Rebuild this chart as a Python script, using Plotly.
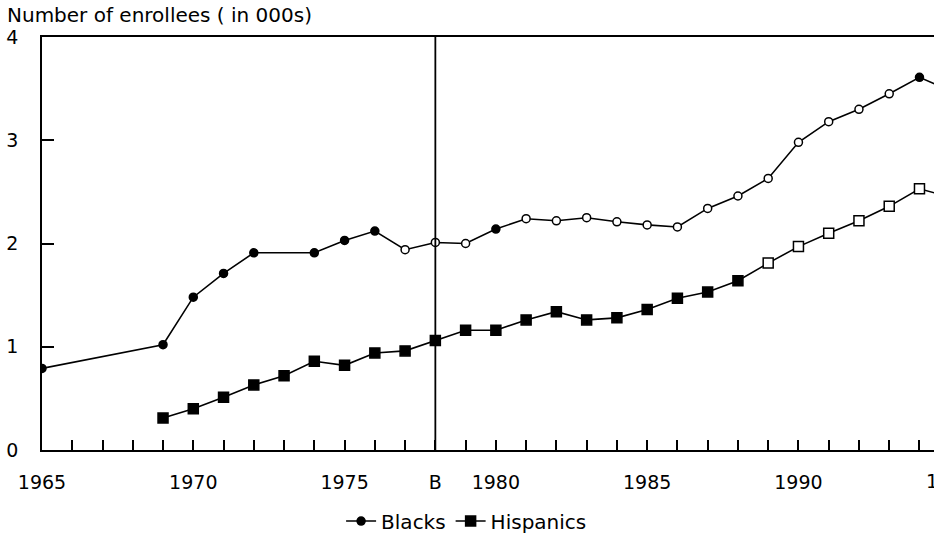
import plotly.graph_objects as go

# ---- data ----
black_years = [1965, 1969, 1970, 1971, 1972, 1974, 1975, 1976, 1977, 1978, 1979,
               1980, 1981, 1982, 1983, 1984, 1985, 1986, 1987, 1988, 1989, 1990,
               1991, 1992, 1993, 1994, 1995]
black_vals = [0.79, 1.02, 1.48, 1.71, 1.91, 1.91, 2.03, 2.12, 1.94, 2.01, 2.00,
              2.14, 2.24, 2.22, 2.25, 2.21, 2.18, 2.16, 2.34, 2.46, 2.63, 2.98,
              3.18, 3.30, 3.45, 3.61, 3.48]

hisp_years = [1969, 1970, 1971, 1972, 1973, 1974, 1975, 1976, 1977, 1978, 1979,
              1980, 1981, 1982, 1983, 1984, 1985, 1986, 1987, 1988, 1989, 1990,
              1991, 1992, 1993, 1994, 1995]
hisp_vals = [0.31, 0.40, 0.51, 0.63, 0.72, 0.86, 0.82, 0.94, 0.96, 1.06, 1.16,
             1.16, 1.26, 1.34, 1.26, 1.28, 1.36, 1.47, 1.53, 1.64, 1.81, 1.97,
             2.10, 2.22, 2.36, 2.53, 2.45]

tick_years = list(range(1965, 1995))
tick_labels = {1965: "1965", 1970: "1970", 1975: "1975", 1978: "B",
               1980: "1980", 1985: "1985", 1990: "1990"}
break_year = 1978

title_text = "Number of enrollees ( in 000s)"
font_family = "DejaVu Sans"

# marker fill styling (photocopy look: early points solid, later hollow)
black_solid = {1965, 1969, 1970, 1971, 1972, 1974, 1975, 1976, 1980, 1994}
hisp_solid_until = 1988

black_fill = ["black" if y in black_solid else "white" for y in black_years]
hisp_fill = ["black" if y <= hisp_solid_until else "white" for y in hisp_years]

fig = go.Figure()
fig.add_trace(go.Scatter(
    x=black_years, y=black_vals, name="Blacks", mode="lines+markers",
    line=dict(color="black", width=1.6),
    marker=dict(symbol="circle", size=8, color=black_fill,
                line=dict(color="black", width=1.5)),
))
fig.add_trace(go.Scatter(
    x=hisp_years, y=hisp_vals, name="Hispanics", mode="lines+markers",
    line=dict(color="black", width=1.6),
    marker=dict(symbol="square", size=10, color=hisp_fill,
                line=dict(color="black", width=1.5)),
))

fig.add_shape(type="line", xref="x", yref="y", x0=break_year, x1=break_year,
              y0=0, y1=4, line=dict(color="black", width=1.8), layer="above")

# partially visible last label, cut by the picture edge
x0, x1 = 1965, 1994.48
fig.add_annotation(text="1995", xref="paper", yref="paper",
                   x=(1995 - x0) / (x1 - x0), y=0, yshift=-31,
                   xanchor="center", yanchor="middle", showarrow=False,
                   font=dict(family=font_family, size=19, color="black"))

fig.update_layout(
    width=934, height=536,
    margin=dict(l=42, r=0, t=37, b=86, pad=0, autoexpand=False),
    paper_bgcolor="white", plot_bgcolor="white",
    font=dict(family=font_family, size=19, color="black"),
    title=dict(text=title_text, x=7 / 934, xanchor="left", xref="container",
               y=1 - 15 / 536, yanchor="middle", yref="container",
               pad=dict(l=0, r=0, t=0, b=0), automargin=False,
               font=dict(family=font_family, size=20, color="black")),
    showlegend=True,
    legend=dict(orientation="h", x=0.476, xanchor="center", y=-0.172,
                yanchor="middle", itemwidth=30, font=dict(size=20),
                bgcolor="rgba(0,0,0,0)", tracegroupgap=0),
)

fig.update_xaxes(
    range=[x0, x1], showgrid=False, zeroline=False, automargin=False,
    showline=True, linecolor="black", linewidth=1.6, mirror=True,
    tickmode="array", tickvals=tick_years,
    ticktext=[tick_labels.get(y, "") for y in tick_years],
    ticks="inside", ticklen=10, tickwidth=1.5, tickcolor="black",
    ticklabelstandoff=14,
)
fig.update_yaxes(
    range=[0, 4], showgrid=False, zeroline=False, automargin=False,
    showline=True, linecolor="black", linewidth=1.6, mirror=False,
    tickmode="array", tickvals=[0, 1, 2, 3, 4],
    ticks="inside", ticklen=12, tickwidth=1.5, tickcolor="black",
    ticklabelstandoff=18,
)

fig.write_html(
    "out.html",
    config={"displayModeBar": False},
    post_script="document.body.style.margin='0';document.body.style.overflow='hidden';",
)
